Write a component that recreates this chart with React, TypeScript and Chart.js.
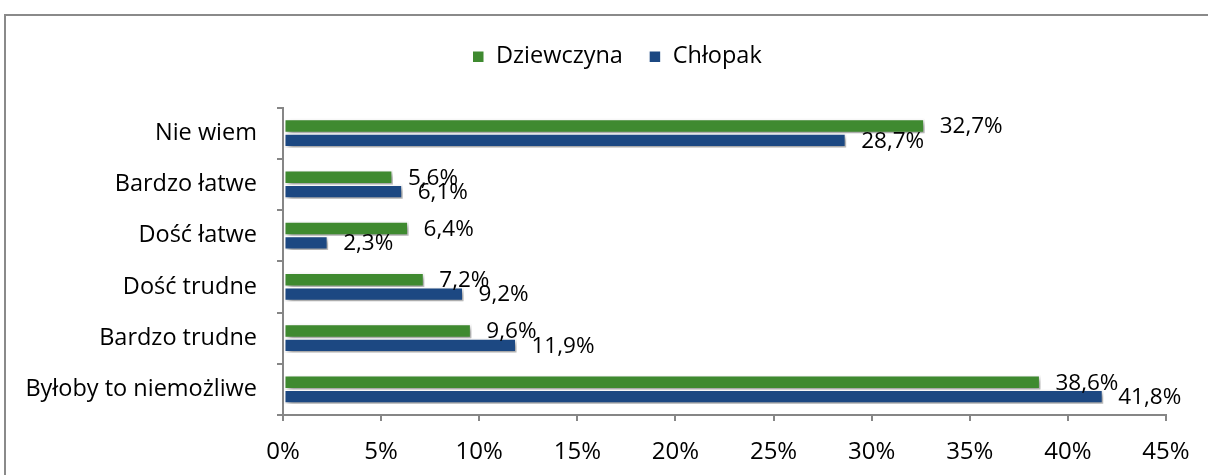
import React, { useEffect, useRef } from "react";
import { Chart, registerables } from "chart.js";

Chart.register(...registerables);

const categories = [
  "Nie wiem",
  "Bardzo łatwe",
  "Dość łatwe",
  "Dość trudne",
  "Bardzo trudne",
  "Byłoby to niemożliwe",
];
const seriesNames = ["Dziewczyna", "Chłopak"];
const dziewczyna = [32.7, 5.6, 6.4, 7.2, 9.6, 38.6];
const chlopak = [28.7, 6.1, 2.3, 9.2, 11.9, 41.8];
const xTicks = [0, 5, 10, 15, 20, 25, 30, 35, 40, 45];

const GREEN = "#3F8A30";
const BLUE = "#1C4882";
const AXIS = "#868686";
const FONT = "'Open Sans', 'Noto Sans', sans-serif";

const fmt = (v: number) => v.toFixed(1).replace(".", ",") + "%";

const framePlugin = {
  id: "frame",
  beforeDraw(chart: any) {
    const ctx = chart.ctx;
    ctx.save();
    ctx.fillStyle = "#ffffff";
    ctx.fillRect(0, 0, chart.width, chart.height);
    ctx.strokeStyle = "#8a8a8a";
    ctx.lineWidth = 2;
    ctx.strokeRect(5, 15, chart.width + 20, chart.height + 20);
    ctx.restore();
  },
};

const shadowPlugin = {
  id: "barShadow",
  beforeDatasetsDraw(chart: any) {
    const ctx = chart.ctx;
    ctx.save();
    ctx.shadowColor = "rgba(0,0,0,0.4)";
    ctx.shadowBlur = 5;
    ctx.shadowOffsetX = 3;
    ctx.shadowOffsetY = 3;
  },
  afterDatasetsDraw(chart: any) {
    chart.ctx.restore();
  },
};

const labelPlugin = {
  id: "valueLabels",
  afterDraw(chart: any) {
    const ctx = chart.ctx;
    ctx.save();
    ctx.font = `22.5px ${FONT}`;
    ctx.fillStyle = "#000000";
    ctx.textAlign = "left";
    ctx.textBaseline = "middle";
    chart.data.datasets.forEach((ds: any, di: number) => {
      const meta = chart.getDatasetMeta(di);
      meta.data.forEach((el: any, i: number) => {
        ctx.fillText(fmt(ds.data[i]), el.x + 15, el.y + 1);
      });
    });
    ctx.restore();
  },
};

const LEGEND_SHIFT = 30;
const legendSpacing = {
  id: "legendSpacing",
  beforeInit(chart: any) {
    const legend = chart.legend;
    if (!legend) return;
    const origFit = legend.fit;
    legend.fit = function () {
      origFit.call(this);
      this.height += 29;
    };
    const origDraw = legend.draw;
    legend.draw = function (...args: any[]) {
      this.left += LEGEND_SHIFT;
      this.right += LEGEND_SHIFT;
      origDraw.apply(this, args);
      this.left -= LEGEND_SHIFT;
      this.right -= LEGEND_SHIFT;
    };
  },
};

export default function App() {
  const ref = useRef<HTMLCanvasElement | null>(null);

  useEffect(() => {
    if (!ref.current) return;
    const chart = new Chart(ref.current, {
      type: "bar",
      data: {
        labels: categories,
        datasets: [
          {
            label: seriesNames[0],
            data: dziewczyna,
            backgroundColor: GREEN,
            borderColor: "#ffffff",
            borderWidth: 1.5,
            borderSkipped: false,
          },
          {
            label: seriesNames[1],
            data: chlopak,
            backgroundColor: BLUE,
            borderColor: "#ffffff",
            borderWidth: 1.5,
            borderSkipped: false,
          },
        ],
      },
      options: {
        indexAxis: "y",
        animation: false,
        responsive: false,
        devicePixelRatio: 1,
        datasets: { bar: { categoryPercentage: 0.56, barPercentage: 1 } },
        layout: { padding: { left: 8, right: 42, top: 19, bottom: 0 } },
        plugins: {
          legend: {
            position: "top",
            align: "center",
            labels: {
              boxWidth: 12,
              boxHeight: 12,
              color: "#000000",
              padding: 26,
              font: { family: FONT, size: 23.5 },
            },
          },
          tooltip: { enabled: false },
        },
        scales: {
          x: {
            type: "linear",
            min: 0,
            max: 45,
            afterBuildTicks(scale: any) {
              scale.ticks = xTicks.map((v) => ({ value: v }));
            },
            afterFit(scale: any) {
              scale.height = 60;
            },
            ticks: {
              callback: (v: any) => v + "%",
              color: "#000000",
              font: { family: FONT, size: 24 },
              padding: 17,
              maxRotation: 0,
            },
            grid: {
              drawOnChartArea: false,
              drawTicks: true,
              tickLength: 6,
              color: AXIS,
              lineWidth: 2,
            },
            border: { display: true, color: AXIS, width: 2 },
          },
          y: {
            type: "category",
            afterFit(scale: any) {
              scale.width = 275;
            },
            ticks: {
              color: "#000000",
              font: { family: FONT, size: 23.5 },
              padding: 20,
            },
            grid: {
              drawOnChartArea: false,
              drawTicks: true,
              tickLength: 6,
              color: AXIS,
              lineWidth: 2,
              offset: true,
            },
            border: { display: true, color: AXIS, width: 2 },
          },
        },
      },
      plugins: [framePlugin, legendSpacing, shadowPlugin, labelPlugin],
    });
    return () => chart.destroy();
  }, []);

  return (
    <div style={{ position: "absolute", left: 0, top: 0, width: 1208, height: 475 }}>
      <canvas ref={ref} width={1208} height={475} />
    </div>
  );
}
